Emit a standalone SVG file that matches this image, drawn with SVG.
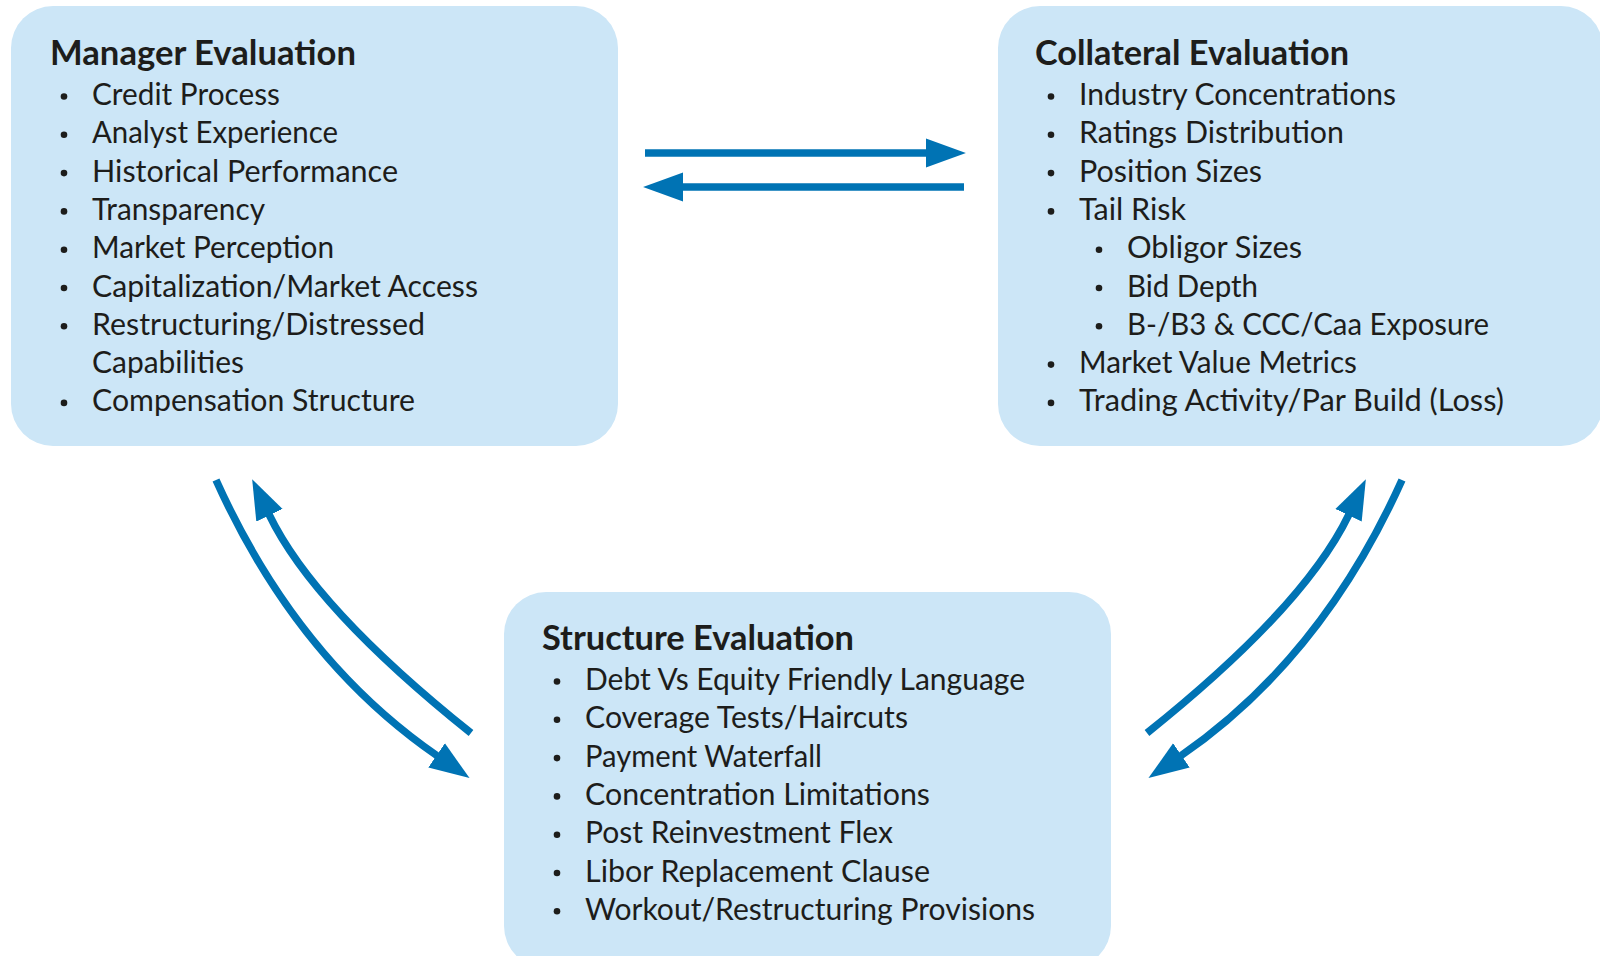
<svg xmlns="http://www.w3.org/2000/svg" width="1600" height="956" viewBox="0 0 1600 956">
<style>
.box{fill:#CCE6F7;}
.title{font-family:Lato,"Open Sans","Liberation Sans",sans-serif;font-weight:700;font-size:34px;fill:#1d1d1b;}
.item{font-family:Lato,"Open Sans","Liberation Sans",sans-serif;font-size:30px;fill:#1d1d1b;}
.dot{fill:#1d1d1b;}
.conn{fill:none;stroke:#0073B4;stroke-width:7.5;}
</style>
<defs>
<marker id="ah" markerUnits="userSpaceOnUse" markerWidth="40" markerHeight="30" viewBox="0 0 37 27" refX="1" refY="13.5" orient="auto">
<path d="M0,0 L37,13.5 L0,27 z" fill="#0073B4"/>
</marker>
</defs>
<rect width="1600" height="956" fill="#ffffff"/>
<g id="manager">
<rect class="box" x="11" y="6" width="607" height="440" rx="42"/>
<text class="title" x="50" y="65" textLength="306" lengthAdjust="spacingAndGlyphs">Manager Evaluation</text>
<circle class="dot" cx="64" cy="96.5" r="3.3"/><text class="item" x="92" y="105" textLength="188" lengthAdjust="spacingAndGlyphs">Credit Process</text>
<circle class="dot" cx="64" cy="134.8" r="3.3"/><text class="item" x="92" y="143.3" textLength="246" lengthAdjust="spacingAndGlyphs">Analyst Experience</text>
<circle class="dot" cx="64" cy="173.1" r="3.3"/><text class="item" x="92" y="181.6" textLength="306" lengthAdjust="spacingAndGlyphs">Historical Performance</text>
<circle class="dot" cx="64" cy="211.4" r="3.3"/><text class="item" x="92" y="219.9" textLength="173" lengthAdjust="spacingAndGlyphs">Transparency</text>
<circle class="dot" cx="64" cy="249.7" r="3.3"/><text class="item" x="92" y="258.2" textLength="242" lengthAdjust="spacingAndGlyphs">Market Perception</text>
<circle class="dot" cx="64" cy="288" r="3.3"/><text class="item" x="92" y="296.5" textLength="386" lengthAdjust="spacingAndGlyphs">Capitalization/Market Access</text>
<circle class="dot" cx="64" cy="326.3" r="3.3"/><text class="item" x="92" y="334.8" textLength="333" lengthAdjust="spacingAndGlyphs">Restructuring/Distressed</text>
<text class="item" x="92" y="373.1" textLength="152" lengthAdjust="spacingAndGlyphs">Capabilities</text>
<circle class="dot" cx="64" cy="402.9" r="3.3"/><text class="item" x="92" y="411.4" textLength="323" lengthAdjust="spacingAndGlyphs">Compensation Structure</text>
</g>
<g id="collateral">
<rect class="box" x="998" y="6" width="605" height="440" rx="42"/>
<text class="title" x="1035" y="65" textLength="314" lengthAdjust="spacingAndGlyphs">Collateral Evaluation</text>
<circle class="dot" cx="1051" cy="96.5" r="3.3"/><text class="item" x="1079" y="105" textLength="317" lengthAdjust="spacingAndGlyphs">Industry Concentrations</text>
<circle class="dot" cx="1051" cy="134.8" r="3.3"/><text class="item" x="1079" y="143.3" textLength="265" lengthAdjust="spacingAndGlyphs">Ratings Distribution</text>
<circle class="dot" cx="1051" cy="173.1" r="3.3"/><text class="item" x="1079" y="181.6" textLength="183" lengthAdjust="spacingAndGlyphs">Position Sizes</text>
<circle class="dot" cx="1051" cy="211.4" r="3.3"/><text class="item" x="1079" y="219.9" textLength="107" lengthAdjust="spacingAndGlyphs">Tail Risk</text>
<circle class="dot" cx="1099" cy="249.7" r="3.3"/><text class="item" x="1127" y="258.2" textLength="175" lengthAdjust="spacingAndGlyphs">Obligor Sizes</text>
<circle class="dot" cx="1099" cy="288" r="3.3"/><text class="item" x="1127" y="296.5" textLength="131" lengthAdjust="spacingAndGlyphs">Bid Depth</text>
<circle class="dot" cx="1099" cy="326.3" r="3.3"/><text class="item" x="1127" y="334.8" textLength="362" lengthAdjust="spacingAndGlyphs">B-/B3 &amp; CCC/Caa Exposure</text>
<circle class="dot" cx="1051" cy="364.6" r="3.3"/><text class="item" x="1079" y="373.1" textLength="278" lengthAdjust="spacingAndGlyphs">Market Value Metrics</text>
<circle class="dot" cx="1051" cy="402.9" r="3.3"/><text class="item" x="1079" y="411.4" textLength="425" lengthAdjust="spacingAndGlyphs">Trading Activity/Par Build (Loss)</text>
</g>
<g id="structure">
<rect class="box" x="504" y="592" width="607" height="376" rx="42"/>
<text class="title" x="542" y="650" textLength="312" lengthAdjust="spacingAndGlyphs">Structure Evaluation</text>
<circle class="dot" cx="557" cy="681.5" r="3.3"/><text class="item" x="585" y="690" textLength="440" lengthAdjust="spacingAndGlyphs">Debt Vs Equity Friendly Language</text>
<circle class="dot" cx="557" cy="719.8" r="3.3"/><text class="item" x="585" y="728.3" textLength="323" lengthAdjust="spacingAndGlyphs">Coverage Tests/Haircuts</text>
<circle class="dot" cx="557" cy="758.1" r="3.3"/><text class="item" x="585" y="766.6" textLength="237" lengthAdjust="spacingAndGlyphs">Payment Waterfall</text>
<circle class="dot" cx="557" cy="796.4" r="3.3"/><text class="item" x="585" y="804.9" textLength="345" lengthAdjust="spacingAndGlyphs">Concentration Limitations</text>
<circle class="dot" cx="557" cy="834.7" r="3.3"/><text class="item" x="585" y="843.2" textLength="308" lengthAdjust="spacingAndGlyphs">Post Reinvestment Flex</text>
<circle class="dot" cx="557" cy="873" r="3.3"/><text class="item" x="585" y="881.5" textLength="345" lengthAdjust="spacingAndGlyphs">Libor Replacement Clause</text>
<circle class="dot" cx="557" cy="911.3" r="3.3"/><text class="item" x="585" y="919.8" textLength="450" lengthAdjust="spacingAndGlyphs">Workout/Restructuring Provisions</text>
</g>
<g id="connectors">
<path class="conn" d="M645,153 L927,153" marker-end="url(#ah)"/>
<path class="conn" d="M964,187 L682,187" marker-end="url(#ah)"/>
<path class="conn" d="M216,480 Q296.4,658.7 437.5,756" marker-end="url(#ah)"/>
<path class="conn" d="M471,733 Q313.5,607 269,514.3" marker-end="url(#ah)"/>
<path class="conn" d="M1147,733 Q1304.5,607 1349,514.3" marker-end="url(#ah)"/>
<path class="conn" d="M1402,480 Q1321.6,658.7 1180.5,756" marker-end="url(#ah)"/>
</g>
</svg>
